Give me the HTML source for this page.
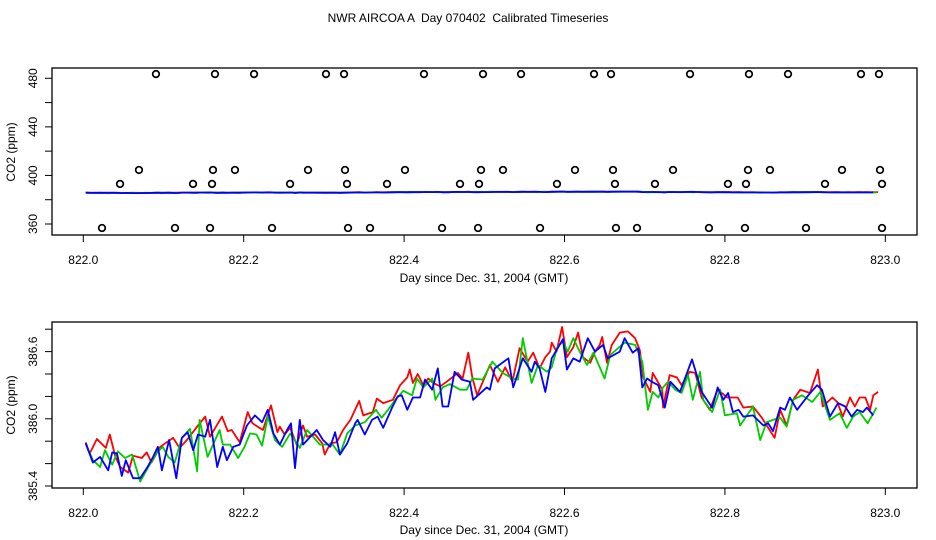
<!DOCTYPE html>
<html><head><meta charset="utf-8"><style>
body{margin:0;background:#fff}
svg{display:block;font-family:"Liberation Sans",sans-serif}
</style></head><body>
<svg id="c" width="936" height="540">
<text x="468" y="22" text-anchor="middle" font-size="12" style="white-space:pre" xml:space="preserve">NWR AIRCOA A  Day 070402  Calibrated Timeseries</text>
</svg>
<script>
const xTicks=[822.0,822.2,822.4,822.6,822.8,823.0];
const topYTicks=[360,380,400,420,440,460,480];
const topYLabels=[360,400,440,480];
const botYTicks=[385.4,385.6,385.8,386.0,386.2,386.4,386.6,386.8];
const botYLabels=[385.4,386.0,386.6];
// flag points (day offset from 822, ppm)
const flagT=[0.0906,0.1642,0.2129,0.3026,0.3251,0.4248,0.4984,0.5458,0.6368,0.6580,0.7565,0.8300,0.8787,0.9697,0.9921,
0.0694,0.1617,0.1891,0.2802,0.3263,0.4011,0.4959,0.5233,0.6131,0.6605,0.7353,0.8288,0.8562,0.9460,0.9934,
0.0458,0.1368,0.1605,0.2578,0.3288,0.3787,0.4697,0.4934,0.5906,0.6629,0.7128,0.8038,0.8263,0.9248,0.9959,
0.0233,0.1143,0.1580,0.2353,0.3301,0.3575,0.4473,0.4922,0.5695,0.6642,0.6904,0.7801,0.8250,0.9011,0.9959];
const flagV=[483.5,483.5,483.5,483.5,483.5,483.5,483.5,483.5,483.5,483.5,483.5,483.5,483.5,483.5,483.5,
404.5,404.5,404.5,404.5,404.5,404.5,404.5,404.5,404.5,404.5,404.5,404.5,404.5,404.5,404.5,
393,393,393,393,393,393,393,393,393,393,393,393,393,393,393,
356.7,356.7,356.7,356.7,356.7,356.7,356.7,356.7,356.7,356.7,356.7,356.7,356.7,356.7,356.7];
const redT=[.003,.008,.017,.028,.033,.040,.046,.056,.062,.073,.079,.085,.096,.112,.120,.129,.142,.152,.158,.173,.180,.185,.195,.205,.211,.224,.234,.242,.245,.251,.258,.266,.274,.279,.289,.298,.301,.308,.316,.324,.333,.344,.349,.361,.366,.374,.386,.395,.404,.407,.411,.417,.424,.430,.436,.445,.453,.467,.473,.480,.485,.491,.507,.517,.526,.535,.544,.554,.561,.569,.576,.582,.584,.590,.597,.603,.611,.617,.623,.632,.638,.644,.647,.653,.659,.669,.679,.688,.694,.698,.707,.710,.722,.723,.731,.740,.746,.756,.763,.771,.781,.791,.803,.816,.823,.835,.846,.862,.869,.877,.885,.894,.906,.916,.922,.934,.940,.947,.956,.962,.968,.975,.981,.985,.991];
const redV=[385.79,385.69,385.82,385.74,385.86,385.66,385.57,385.52,385.67,385.65,385.70,385.61,385.75,385.83,385.74,385.81,385.93,386.02,385.84,386.02,385.89,385.90,385.79,386.06,385.96,385.90,386.12,385.88,385.93,385.86,385.92,385.77,385.94,385.84,385.86,385.78,385.68,385.78,385.79,385.90,385.99,386.16,386.03,386.06,386.18,386.14,386.17,386.30,386.37,386.44,386.32,386.40,386.30,386.36,386.32,386.29,386.33,386.41,386.36,386.59,386.37,386.21,386.48,386.33,386.46,386.33,386.63,386.51,386.59,386.45,386.55,386.60,386.68,386.60,386.82,386.55,386.64,386.77,386.55,386.50,386.60,386.66,386.73,386.50,386.66,386.77,386.78,386.72,386.61,386.37,386.24,386.41,386.26,386.10,386.39,386.37,386.30,386.42,386.41,386.19,386.08,386.26,386.19,386.19,386.10,386.11,386.01,385.83,386.08,385.94,386.17,386.26,386.23,386.44,386.11,386.19,386.15,386.02,386.19,386.11,386.19,386.19,386.08,386.21,386.24];
const greenT=[.003,.012,.021,.027,.036,.043,.052,.061,.071,.081,.092,.099,.106,.114,.123,.133,.142,.145,.155,.170,.174,.183,.193,.201,.208,.216,.223,.230,.239,.248,.258,.270,.279,.295,.311,.320,.329,.339,.351,.365,.372,.380,.389,.399,.410,.416,.424,.435,.439,.448,.457,.470,.478,.485,.498,.510,.523,.535,.542,.548,.559,.567,.578,.584,.591,.598,.604,.611,.619,.628,.636,.650,.657,.675,.688,.697,.704,.710,.717,.723,.729,.738,.746,.754,.760,.769,.773,.784,.794,.800,.815,.819,.835,.844,.852,.860,.869,.877,.885,.896,.909,.919,.931,.943,.952,.960,.968,.978,.989];
const greenV=[385.78,385.63,385.57,385.72,385.59,385.71,385.65,385.68,385.44,385.57,385.70,385.75,385.66,385.61,385.83,385.91,385.53,385.99,385.66,385.90,385.77,385.77,385.65,385.75,385.87,385.86,385.76,386.02,385.81,385.75,385.87,385.74,385.90,385.77,385.77,385.68,385.87,385.94,385.97,386.08,386.01,386.08,386.17,386.25,386.21,386.36,386.28,386.36,386.17,386.28,386.31,386.26,386.26,386.36,386.35,386.51,386.41,386.36,386.35,386.72,386.32,386.48,386.42,386.46,386.64,386.69,386.60,386.72,386.60,386.48,386.59,386.36,386.57,386.68,386.66,386.51,386.08,386.24,386.19,386.28,386.33,386.26,386.23,386.39,386.17,386.42,386.17,386.06,386.26,386.03,386.05,385.94,386.11,385.81,385.97,385.99,386.01,385.93,386.17,386.21,386.15,386.24,385.99,386.05,385.92,386.02,386.06,385.96,386.10];
const blueT=[.003,.012,.021,.031,.036,.042,.048,.053,.062,.071,.080,.087,.093,.098,.107,.116,.123,.130,.137,.143,.152,.158,.167,.174,.179,.187,.195,.204,.214,.223,.230,.237,.245,.254,.259,.264,.270,.274,.291,.299,.308,.314,.320,.329,.339,.342,.351,.360,.367,.374,.385,.392,.397,.404,.411,.420,.426,.435,.442,.448,.455,.463,.472,.482,.486,.503,.507,.513,.530,.536,.548,.559,.563,.569,.576,.584,.598,.603,.611,.619,.629,.638,.648,.654,.669,.675,.685,.692,.697,.703,.709,.717,.725,.732,.744,.759,.765,.771,.784,.791,.798,.804,.810,.817,.823,.835,.848,.854,.860,.869,.875,.881,.890,.904,.915,.921,.931,.941,.950,.958,.965,.972,.977,.985];
const blueV=[385.78,385.61,385.66,385.54,385.70,385.69,385.49,385.63,385.47,385.47,385.57,385.66,385.75,385.54,385.81,385.47,385.83,385.88,385.72,385.86,385.84,385.99,385.57,385.75,385.63,385.75,385.77,385.94,386.03,385.97,386.08,385.87,385.77,385.90,385.96,385.56,385.99,385.77,385.90,385.81,385.75,385.88,385.68,385.78,385.96,385.99,385.86,385.99,386.02,385.92,386.10,386.20,386.21,386.08,386.19,386.19,386.35,386.26,386.45,386.11,386.11,386.42,386.35,386.33,386.17,386.28,386.26,386.45,386.54,386.28,386.54,386.42,386.51,386.45,386.24,386.54,386.71,386.44,386.54,386.51,386.72,386.60,386.66,386.54,386.60,386.72,386.59,386.63,386.28,386.36,386.33,386.30,386.10,386.33,386.24,386.53,386.39,386.24,386.10,386.28,386.17,386.23,386.06,386.08,386.02,386.03,385.94,385.96,385.89,386.10,386.08,386.19,386.08,386.21,386.30,386.26,386.02,386.14,386.11,386.02,386.08,386.06,386.10,386.03];

const svg=document.getElementById('c');
const NS='http://www.w3.org/2000/svg';
function mk(tag,attrs,parent){const e=document.createElementNS(NS,tag);for(const k in attrs)e.setAttribute(k,attrs[k]);(parent||svg).appendChild(e);return e;}
const xs=d=>83.3+(d-822)*802;
const xo=t=>xs(822+t);
const panels=[
 {name:'top',box:[52,68,917,235],y:v=>224-(v-360)*1.2142,yt:topYTicks,yl:topYLabels,fmt:v=>String(v),ylabY:152,xlabY:264,xtitleY:282,flags:true},
 {name:'bottom',box:[52,322,917,488],y:v=>486-(v-385.4)*112,yt:botYTicks,yl:botYLabels,fmt:v=>v.toFixed(1),ylabY:405,xlabY:517,xtitleY:534,flags:false}
];
const series=[['red',redT,redV,'#ff0000'],['green',greenT,greenV,'#00cc00'],['blue',blueT,blueV,'#0000ff']];
panels.forEach(p=>{
 const g=mk('g',{});
 
 
 const [l,t,r,b]=p.box;
 const frame=mk('rect',{x:l,y:t,width:r-l,height:b-t,fill:'none',stroke:'#000','stroke-width':1.3},g);
 
 
 xTicks.forEach(d=>{
  const x=xs(d);
  const tk=mk('line',{x1:x,x2:x,y1:b,y2:b+7,stroke:'#000'},g);
  
  
  const tx=mk('text',{x:x,y:p.xlabY,'text-anchor':'middle','font-size':12},g);
  tx.textContent=d.toFixed(1);
  
  
 });
 const xt=mk('text',{x:484,y:p.xtitleY,'text-anchor':'middle','font-size':12},g);
 xt.textContent='Day since Dec. 31, 2004 (GMT)';
 
 
 p.yt.forEach(v=>{
  const y=p.y(v);
  const tk=mk('line',{x1:l-7,x2:l,y1:y,y2:y,stroke:'#000'},g);
  
  
 });
 p.yl.forEach(v=>{
  const y=p.y(v);
  const tx=mk('text',{x:0,y:0,'text-anchor':'middle','font-size':12,transform:`translate(37,${y}) rotate(-90)`},g);
  tx.textContent=p.fmt(v);
  
  
 });
 const yt=mk('text',{x:0,y:0,'text-anchor':'middle','font-size':12,transform:`translate(15,${p.ylabY}) rotate(-90)`},g);
 yt.textContent='CO2 (ppm)';
 
 
 series.forEach(([n,T,V,c])=>{
  const pts=T.map((t,i)=>xo(t).toFixed(1)+','+p.y(V[i]).toFixed(1)).join(' ');
  const pl=mk('polyline',{points:pts,fill:'none',stroke:c,'stroke-width':1.8,'stroke-linejoin':'round'},g);
  
  
 });
 if(p.flags){
  flagT.forEach((t,i)=>{
   const ci=mk('circle',{cx:xo(t),cy:p.y(flagV[i]),r:3.3,fill:'none',stroke:'#000','stroke-width':1.7},g);
   
   
  });
 }
});
</script>
</body></html>
